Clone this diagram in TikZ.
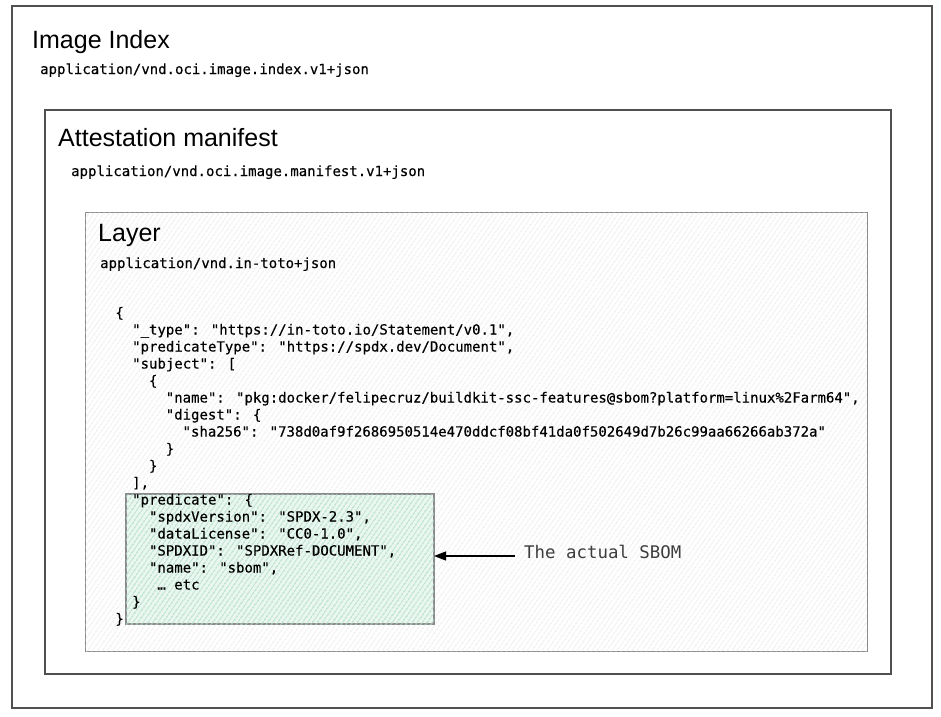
\documentclass[tikz,border=0pt]{standalone}
\usepackage{fontspec}
\setmainfont{Liberation Sans}
\newfontfamily\codefont[FakeBold=0.35]{DejaVu Sans Mono}
\newfontfamily\labelfont{DejaVu Sans Mono}
\usetikzlibrary{patterns.meta,arrows.meta}
\definecolor{framegray}{HTML}{505050}
\definecolor{layergray}{HTML}{8A8A8A}
\definecolor{hatchgray}{HTML}{DEDEDE}
\definecolor{predgreen}{HTML}{EAF6F0}
\definecolor{hatchgreen}{HTML}{ADDDC6}
\definecolor{labelgray}{HTML}{3D3D3D}
\tikzset{
  frame/.style={draw=framegray, line width=1.3pt, inner sep=0pt, outer sep=0pt, anchor=north west, fill=white},
  layerbox/.style={draw=layergray, line width=1pt, inner sep=0pt, outer sep=0pt, anchor=north west, fill=white,
    postaction={pattern={Lines[angle=55,distance=4pt,line width=0.9pt]}, pattern color=hatchgray}},
  predbox/.style={draw=layergray, line width=1.3pt, inner sep=0pt, outer sep=0pt, anchor=north west, fill=predgreen,
    postaction={pattern={Lines[angle=55,distance=4pt,line width=1.2pt]}, pattern color=hatchgreen}},
  title/.style={anchor=base west, inner sep=0pt, font=\fontsize{25}{30}\selectfont, text=black},
  mime/.style={anchor=base west, inner sep=0pt, font=\codefont\fontsize{14}{17}\selectfont, text=black},
  code/.style={anchor=base west, inner sep=0pt, font=\codefont\fontsize{14}{17}\selectfont, text=black},
  sbomlabel/.style={anchor=base west, inner sep=0pt, font=\labelfont\fontsize{17.4}{20}\selectfont, text=labelgray},
  pointer/.style={draw=black, line width=1.2pt, -{Triangle[length=12pt,width=9pt]}},
}
\newcommand{\codeline}[3]{\node[code] (code#2) at ({115.2+8.4*#1},{317.5+17*#2}) {#3};}
\begin{document}
\begin{tikzpicture}[x=1pt,y=-1pt]
\useasboundingbox (0,0) rectangle (941,716);
% frames
\node[frame, minimum width=920pt, minimum height=702pt] (outer) at (12,6) {};
\node[frame, minimum width=846pt, minimum height=564pt] (attest) at (45,110) {};
\node[layerbox, minimum width=782pt, minimum height=439pt] (layer) at (85,212) {};
\node[predbox, minimum width=308pt, minimum height=130pt] (pred) at (126,494) {};
% titles
\node[title] (t1) at (32,48) {Image Index};
\node[mime] (m1) at (40,74) {application/vnd.oci.image.index.v1+json};
\node[title] (t2) at (58,146) {Attestation manifest};
\node[mime] (m2) at (71,176) {application/vnd.oci.image.manifest.v1+json};
\node[title] (t3) at (98,241) {Layer};
\node[mime] (m3) at (100,268) {application/vnd.in-toto+json};
% code
\codeline{0}{0}{\{}
\codeline{2}{1}{"\_type": "https://in-toto.io/Statement/v0.1",}
\codeline{2}{2}{"predicateType": "https://spdx.dev/Document",}
\codeline{2}{3}{"subject": [}
\codeline{4}{4}{\{}
\codeline{6}{5}{"name": "pkg:docker/felipecruz/buildkit-ssc-features@sbom?platform=linux\%2Farm64",}
\codeline{6}{6}{"digest": \{}
\codeline{8}{7}{"sha256": "738d0af9f2686950514e470ddcf08bf41da0f502649d7b26c99aa66266ab372a"}
\codeline{6}{8}{\}}
\codeline{4}{9}{\}}
\codeline{2}{10}{],}
\codeline{2}{11}{"predicate": \{}
\codeline{4}{12}{"spdxVersion": "SPDX-2.3",}
\codeline{4}{13}{"dataLicense": "CC0-1.0",}
\codeline{4}{14}{"SPDXID": "SPDXRef-DOCUMENT",}
\codeline{4}{15}{"name": "sbom",}
\codeline{5}{16}{…\ etc}
\codeline{2}{17}{\}}
\codeline{0}{18}{\}}
% label and arrow
\node[sbomlabel] (sbom) at (524,558) {The actual SBOM};
\coordinate (arrowtail) at (515,556);
\draw[pointer] (arrowtail) -- (arrowtail -| pred.east);
\end{tikzpicture}
\end{document}
